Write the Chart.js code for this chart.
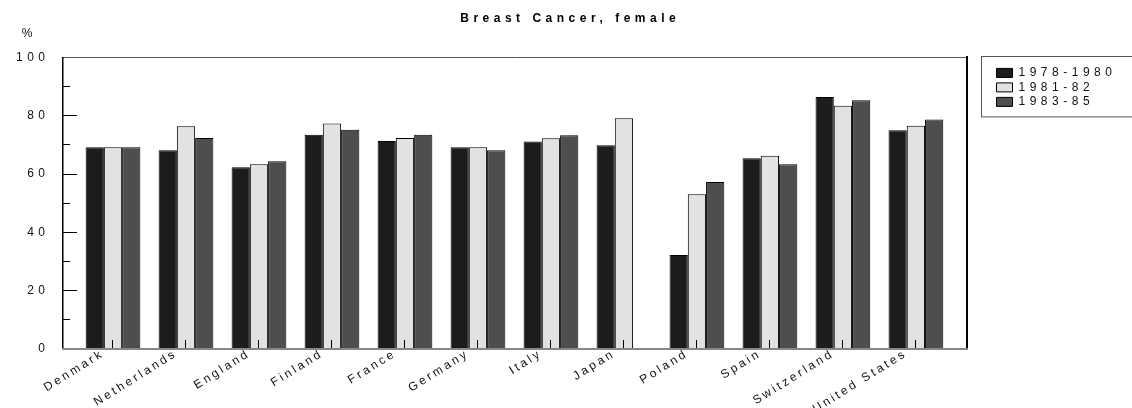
<!DOCTYPE html>
<html>
<head>
<meta charset="utf-8">
<script src="https://cdn.jsdelivr.net/npm/chart.js@4.4.1/dist/chart.umd.min.js"></script>
<style>
  html, body { margin: 0; padding: 0; background: #fff; }
  #wrap { width: 1132px; height: 408px; }
</style>
</head>
<body>
<div id="wrap"><canvas id="chart"></canvas></div>
<script>
// --- data ---
const countries = ['Denmark', 'Netherlands', 'England', 'Finland', 'France', 'Germany',
                   'Italy', 'Japan', 'Poland', 'Spain', 'Switzerland', 'United States'];
const periods = ['1978-1980', '1981-82', '1983-85'];
const survival7880 = [69.2, 68.2, 62.3, 73.5, 71.3, 69.2, 71.2, 69.9, 32.2, 65.4, 86.4, 75.0];
const survival8182 = [69.2, 76.4, 63.4, 77.3, 72.4, 69.2, 72.3, 79.1, 53.1, 66.3, 83.4, 76.6];
const survival8385 = [69.2, 72.4, 64.4, 75.2, 73.5, 68.2, 73.3, null, 57.3, 63.4, 85.3, 78.7];
const yTicks = [0, 20, 40, 60, 80, 100];

const fills = ['#1c1c1c', '#e2e2e2', '#4e4e4e'];

Chart.defaults.font.family = "'Liberation Sans', Arial, sans-serif";
Chart.defaults.font.size = 12;
Chart.defaults.color = '#111';

// spaced-out lettering like the original (category labels a bit tighter)
const spacing = {
    id: 'spacing',
    beforeUpdate(chart) { chart.ctx.letterSpacing = '4.5px'; },
    beforeDraw(chart) { chart.ctx.letterSpacing = '4.5px'; },
    afterDatasetsDraw(chart) { chart.ctx.letterSpacing = '2.8px'; }
};

// box round the legend
const legendFrame = {
    id: 'legendFrame',
    afterDraw(chart) {
        const lg = chart.legend;
        const hb = lg.legendHitBoxes;
        const last = hb[hb.length - 1];
        const top = Math.round(lg.top - 1) + 0.5;
        const ctx = chart.ctx;
        ctx.save();
        ctx.strokeStyle = '#555';
        ctx.lineWidth = 1;
        ctx.strokeRect(Math.round(lg.left - 13) + 0.5, top, chart.width, last.top + last.height + 9 - top);
        ctx.restore();
    }
};

const series = [survival7880, survival8182, survival8385];

new Chart(document.getElementById('chart'), {
    type: 'bar',
    data: {
        datasets: series.map((vals, s) => ({
            label: periods[s],
            data: vals.map((v, i) => ({ x: i, y: v })),
            backgroundColor: fills[s],
            borderColor: '#000',
            borderWidth: 1,
            categoryPercentage: 0.75,
            barPercentage: 1
        }))
    },
    options: {
        responsive: true,
        maintainAspectRatio: false,
        animation: false,
        layout: { padding: { left: 14, right: 5.6, top: 0, bottom: 0 } },
        plugins: {
            title: {
                display: true,
                text: 'Breast Cancer, female',
                color: '#000',
                font: { size: 12, weight: 'bold', lineHeight: 1.2 },
                padding: { top: 11, bottom: 0.6 }
            },
            subtitle: {
                display: true,
                text: ' %',
                align: 'start',
                color: '#111',
                font: { size: 12, lineHeight: 1.2 },
                padding: { top: 0, bottom: 0 }
            },
            legend: {
                position: 'right',
                align: 'start',
                fullSize: false,
                title: { display: true, text: '', font: { size: 7, lineHeight: 1 }, padding: 0 },
                labels: { boxWidth: 16, boxHeight: 9, padding: 2.5, color: '#111', font: { size: 12 } }
            },
            tooltip: { enabled: false }
        },
        scales: {
            x: {
                type: 'linear',
                bounds: 'data',
                offset: false,
                min: -0.685,
                max: 11.7,
                afterBuildTicks: s => { s.ticks = countries.map((c, i) => ({ value: i })); },
                afterFit: s => { s.height = 59; },
                ticks: {
                    z: 1,
                    autoSkip: false,
                    minRotation: 32,
                    maxRotation: 32,
                    labelOffset: -10,
                    padding: 6.5,
                    color: '#111',
                    callback: v => countries[v]
                },
                grid: { z: 1, offset: false, drawOnChartArea: false, tickLength: -9, tickColor: '#000', tickWidth: 1 },
                border: { z: 1, color: '#888', width: 2 }
            },
            xTop: {
                type: 'linear',
                position: 'top',
                offset: false,
                afterFit: s => { s.height = 17; },
                ticks: { display: false },
                grid: { offset: false, drawOnChartArea: false, drawTicks: false },
                border: { color: '#555', width: 1 }
            },
            y: {
                min: 0,
                max: 100,
                weight: 1,
                afterBuildTicks: s => { s.ticks = yTicks.map(v => ({ value: v })); },
                afterFit: s => { s.width = 49; },
                ticks: { padding: 27.5, color: '#111' },
                grid: { drawOnChartArea: false, tickLength: -14, tickColor: '#000', tickWidth: 1 },
                border: { color: '#000', width: 1.5 }
            },
            yMinor: {
                type: 'linear',
                position: 'left',
                min: 0,
                max: 100,
                weight: 0,
                afterFit: s => { s.width = 0; },
                ticks: { display: false, stepSize: 10 },
                grid: { drawOnChartArea: false, tickLength: -7, tickColor: '#000', tickWidth: 1 },
                border: { display: false }
            },
            yRight: {
                type: 'linear',
                position: 'right',
                afterFit: s => { s.width = 27; },
                ticks: { display: false },
                grid: { drawOnChartArea: false, drawTicks: false },
                border: { color: '#000', width: 2 }
            }
        }
    },
    plugins: [spacing, legendFrame]
});
</script>
</body>
</html>
